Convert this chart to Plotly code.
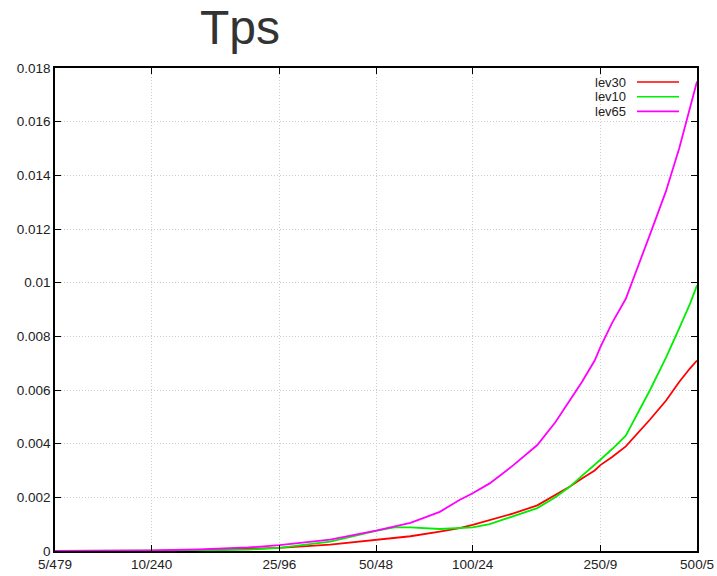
import plotly.graph_objects as go

# ---- data ----
x_vals = [5, 10, 14, 20, 25, 36, 50, 57, 64, 79, 91, 100, 113, 134, 159, 181,
          201, 219, 240, 250, 272, 300, 357, 400, 440, 475, 500]
lev30 = [0, 0, 0.00003, 0.00007, 0.00012, 0.00024, 0.00041, 0.00048, 0.00055,
         0.00072, 0.00085, 0.00097, 0.00115, 0.0014, 0.0017, 0.0021, 0.0024,
         0.0027, 0.0030, 0.0032, 0.0035, 0.0039, 0.0049, 0.0056, 0.0063, 0.0068, 0.0071]
lev10 = [0, 0, 0.00002, 0.00005, 0.00012, 0.00035, 0.00075, 0.00088, 0.00088,
         0.00082, 0.00084, 0.00088, 0.0010, 0.0013, 0.0016, 0.0020, 0.0024,
         0.0028, 0.0032, 0.0034, 0.0038, 0.0043, 0.0060, 0.0072, 0.0083, 0.0092, 0.0099]
lev65 = [0, 0.00002, 0.00006, 0.00013, 0.00022, 0.00042, 0.00076, 0.0009, 0.00105,
         0.00146, 0.0019, 0.00215, 0.00252, 0.0032, 0.00395, 0.0048, 0.0056,
         0.0063, 0.0071, 0.0076, 0.0085, 0.0094, 0.0118, 0.0134, 0.0150, 0.0165, 0.0175]

series_names = ["lev30", "lev10", "lev65"]
series_values = [lev30, lev10, lev65]
series_colors = ["#ff0000", "#00ee00", "#ff00ff"]

x_tick_vals = [5, 10, 25, 50, 100, 250, 500]
x_tick_text = ["5/479", "10/240", "25/96", "50/48", "100/24", "250/9", "500/5"]
y_tick_vals = [0, 0.002, 0.004, 0.006, 0.008, 0.01, 0.012, 0.014, 0.016, 0.018]
y_tick_text = ["0", "0.002", "0.004", "0.006", "0.008", "0.01", "0.012", "0.014", "0.016", "0.018"]

FONT = "Liberation Sans, Arial, sans-serif"

fig = go.Figure()
for name, vals, col in zip(series_names, series_values, series_colors):
    fig.add_trace(go.Scatter(x=x_vals, y=vals, mode="lines", name=name,
                             line=dict(color=col, width=1.8), showlegend=False))

# gnuplot-style legend (text right-aligned, sample line to its right)
W, H = 717, 576
L, R, T, B = 55, 20, 68, 25
pw, ph = W - L - R, H - T - B
for i, (name, col) in enumerate(zip(series_names, series_colors)):
    yc = 82 + i * 14.7
    yp = 1 - (yc - T) / ph
    x_text = (628 - L) / pw
    fig.add_annotation(x=x_text, y=yp, xref="paper", yref="paper", text=name,
                       showarrow=False, xanchor="right", yanchor="middle",
                       font=dict(family=FONT, size=13, color="#222"))
    fig.add_shape(type="line", xref="paper", yref="paper",
                  x0=(637 - L) / pw, x1=(679 - L) / pw, y0=yp, y1=yp,
                  line=dict(color=col, width=1.6))

fig.update_layout(
    width=W, height=H,
    margin=dict(l=L, r=R, t=T, b=B),
    paper_bgcolor="white", plot_bgcolor="white",
    title=dict(text="Tps", xref="container", yref="container",
               x=240 / W, xanchor="center", y=1 - 27 / H, yanchor="middle",
               font=dict(family=FONT, size=48, color="#333")),
    font=dict(family=FONT, size=13, color="#222"),
)
fig.update_xaxes(type="log", range=[0.69897, 2.69897], automargin=False,
                 tickvals=x_tick_vals, ticktext=x_tick_text,
                 ticks="inside", ticklen=6, tickcolor="#000", tickwidth=1,
                 showline=True, linecolor="#000", linewidth=1.5, mirror="ticks",
                 showgrid=True, gridcolor="#cccccc", griddash="1px,2px", gridwidth=1,
                 zeroline=False, tickfont=dict(size=13.5))
fig.update_yaxes(range=[0, 0.018], automargin=False,
                 tickvals=y_tick_vals, ticktext=y_tick_text,
                 ticks="inside", ticklen=6, tickcolor="#000", tickwidth=1,
                 showline=True, linecolor="#000", linewidth=1.5, mirror="ticks",
                 showgrid=True, gridcolor="#cccccc", griddash="1px,2px", gridwidth=1,
                 zeroline=False, tickfont=dict(size=13.5))

fig.write_html("out.html")
